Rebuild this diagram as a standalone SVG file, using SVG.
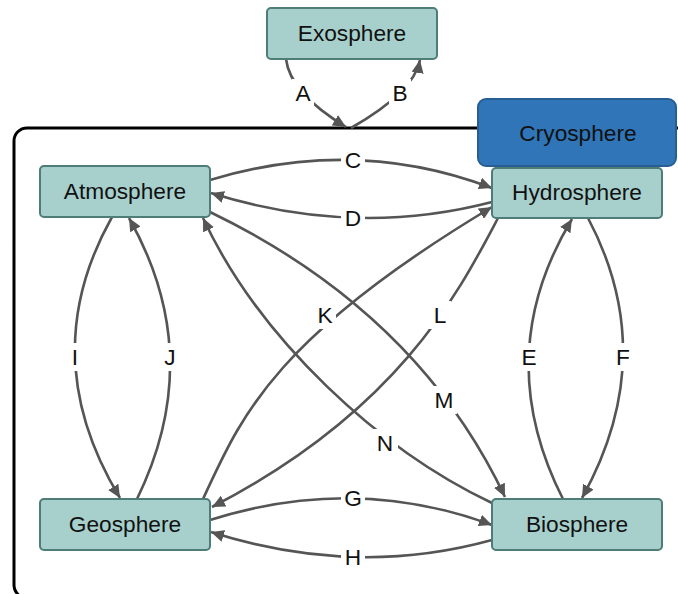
<svg xmlns="http://www.w3.org/2000/svg" width="678" height="594" viewBox="0 0 678 594">
<defs>
<style>
.node rect{fill:#a7d0cd;stroke:#4e7c76;stroke-width:2}
.cryo rect{fill:#2f75b8;stroke:#275f92;stroke-width:2}
text{font-family:"Liberation Sans",Arial,sans-serif;font-size:22.7px;fill:#111;text-anchor:middle;dominant-baseline:central}
.edge{fill:none;stroke:#555;stroke-width:2.6;marker-end:url(#arr)}
.lbl{fill:#fff;stroke:none}
</style>
<marker id="arr" markerUnits="userSpaceOnUse" markerWidth="14" markerHeight="12" refX="13" refY="6" orient="auto">
<path d="M0,0 L13,6 L0,12 Z" fill="#555"/>
</marker>
</defs>
<rect width="678" height="594" fill="#fff"/>
<g id="container">
<rect x="14" y="128" width="720" height="470" rx="13" fill="none" stroke="#000" stroke-width="3"/>
</g>
<g id="connectors">
<path class="edge" d="M286,59 Q290,93 346,127"/>
<path class="edge" d="M351,128 Q414,92 420,60"/>
<path class="edge" d="M210,180 Q355,136 492,188"/>
<path class="edge" d="M492,202 Q354,238 211,193"/>
<path class="edge" d="M210,520 Q355,474 492,525"/>
<path class="edge" d="M492,540 Q354,578 211,532"/>
<path class="edge" d="M112,217 Q34,356 120,498"/>
<path class="edge" d="M137,499 Q207,356 129,218"/>
<path class="edge" d="M563,499 Q490,355 572,219"/>
<path class="edge" d="M588,218 Q661,356 582,498"/>
<path class="edge" d="M203,499 C240,420 270,340 492,207"/>
<path class="edge" d="M498,218 C460,290 400,410 212,507"/>
<path class="edge" d="M210,212 C330,270 440,360 505,497"/>
<path class="edge" d="M492,503 C380,450 260,340 203,218"/>
<g id="labels">
<rect class="lbl" x="292" y="79" width="22" height="28"/><text x="303" y="93">A</text>
<rect class="lbl" x="389" y="79" width="22" height="28"/><text x="400" y="93">B</text>
<rect class="lbl" x="341" y="146" width="24" height="28"/><text x="353" y="160">C</text>
<rect class="lbl" x="341" y="204" width="24" height="28"/><text x="353" y="218">D</text>
<rect class="lbl" x="518" y="343" width="22" height="28"/><text x="529" y="357">E</text>
<rect class="lbl" x="612" y="343" width="22" height="28"/><text x="623" y="357">F</text>
<rect class="lbl" x="341" y="484" width="24" height="28"/><text x="353" y="498">G</text>
<rect class="lbl" x="341" y="543" width="24" height="28"/><text x="353" y="557">H</text>
<rect class="lbl" x="68" y="343" width="14" height="28"/><text x="75" y="357">I</text>
<rect class="lbl" x="161" y="343" width="18" height="28"/><text x="170" y="357">J</text>
<rect class="lbl" x="314" y="301" width="22" height="28"/><text x="325" y="315">K</text>
<rect class="lbl" x="429" y="301" width="22" height="28"/><text x="440" y="315">L</text>
<rect class="lbl" x="431" y="386" width="26" height="28"/><text x="444" y="400">M</text>
<rect class="lbl" x="372" y="429" width="26" height="28"/><text x="385" y="443">N</text>
</g>
</g>
<g id="exosphere" class="node"><rect x="267" y="8" width="170" height="51" rx="4"/><text x="352" y="33">Exosphere</text></g>
<g id="cryosphere" class="cryo"><rect x="478" y="99" width="198" height="67" rx="8"/><text x="578" y="133">Cryosphere</text></g>
<g id="atmosphere" class="node"><rect x="40" y="166" width="170" height="51" rx="4"/><text x="125" y="191">Atmosphere</text></g>
<g id="hydrosphere" class="node"><rect x="492" y="168" width="170" height="50" rx="4"/><text x="577" y="192">Hydrosphere</text></g>
<g id="geosphere" class="node"><rect x="40" y="499" width="170" height="51" rx="4"/><text x="125" y="524">Geosphere</text></g>
<g id="biosphere" class="node"><rect x="492" y="499" width="170" height="51" rx="4"/><text x="577" y="524">Biosphere</text></g>
</svg>
